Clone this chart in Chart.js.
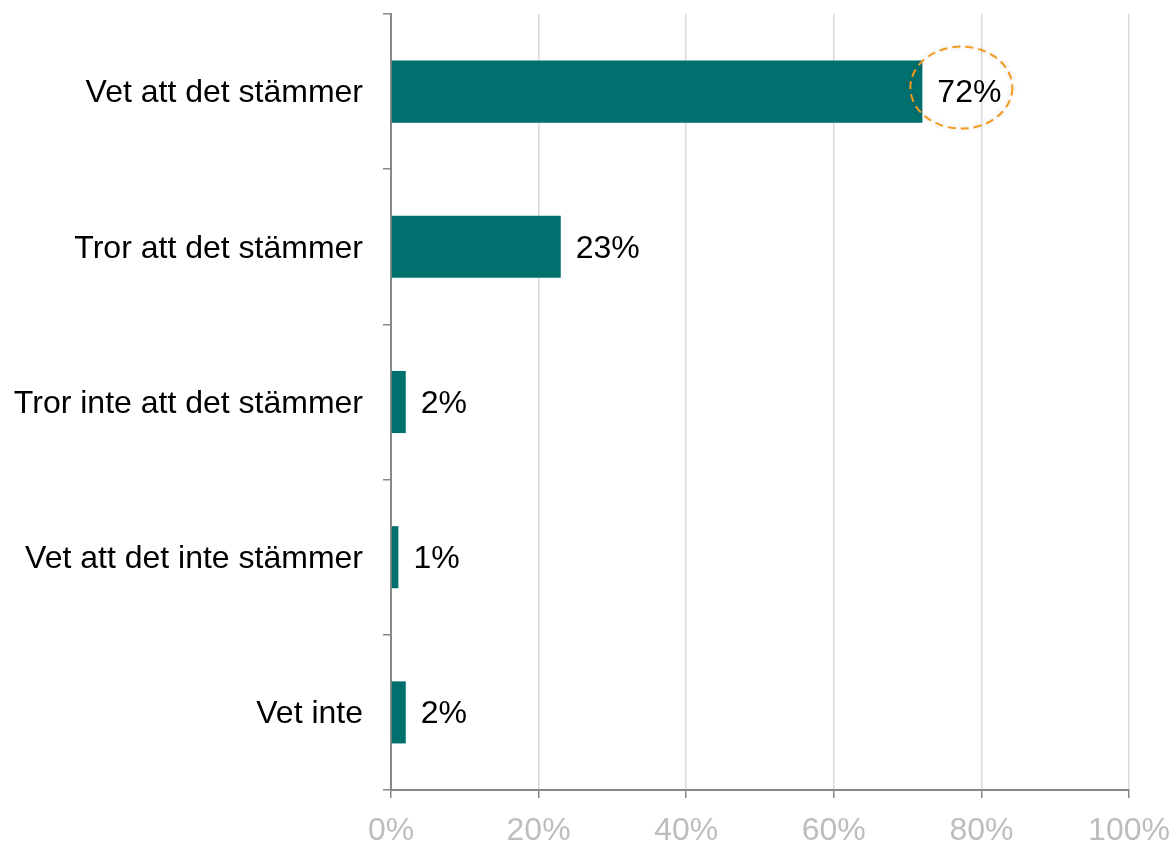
<!DOCTYPE html>
<html>
<head>
<meta charset="utf-8">
<script src="https://cdn.jsdelivr.net/npm/chart.js@4"></script>
<style>
  html, body { margin: 0; padding: 0; background: #fff; }
  #wrap { width: 1175px; height: 842px; }
</style>
</head>
<body>
<div id="wrap"><canvas id="chart" width="1175" height="842"></canvas></div>
<script>
// Answer categories and share of respondents (%)
const categories = [
    'Vet att det stämmer',
    'Tror att det stämmer',
    'Tror inte att det stämmer',
    'Vet att det inte stämmer',
    'Vet inte'
];
const shares = [72, 23, 2, 1, 2];
const xTicks = [0, 20, 40, 60, 80, 100];
const highlightIndex = 0;

const FONT = '"Liberation Sans", Arial, sans-serif';

// Value labels after each bar
const valueLabels = {
    id: 'valueLabels',
    afterDatasetsDraw(chart) {
        const ctx = chart.ctx;
        const meta = chart.getDatasetMeta(0);
        ctx.save();
        ctx.font = '32px ' + FONT;
        ctx.fillStyle = '#000';
        ctx.textAlign = 'left';
        ctx.textBaseline = 'middle';
        meta.data.forEach((bar, i) => {
            ctx.fillText(shares[i] + '%', bar.x + 15, bar.y + 2);
        });
        ctx.restore();
    }
};

// Dashed orange ring around the highlighted label
const highlightRing = {
    id: 'highlightRing',
    afterDatasetsDraw(chart) {
        const ctx = chart.ctx;
        const bar = chart.getDatasetMeta(0).data[highlightIndex];
        if (!bar) return;
        ctx.save();
        ctx.shadowColor = 'rgba(0,0,0,0.18)';
        ctx.shadowBlur = 5;
        ctx.strokeStyle = '#F39A1F';
        ctx.lineWidth = 2;
        ctx.setLineDash([8, 5]);
        ctx.beginPath();
        ctx.ellipse(bar.x + 39, bar.y - 4, 51, 41, 0, 0, Math.PI * 2);
        ctx.stroke();
        ctx.restore();
    }
};

new Chart(document.getElementById('chart'), {
    type: 'bar',
    data: {
        labels: categories,
        datasets: [{
            data: shares,
            backgroundColor: '#006F6E',
            borderWidth: 0,
            barPercentage: 0.4,
            categoryPercentage: 1.0
        }]
    },
    options: {
        indexAxis: 'y',
        responsive: false,
        animation: false,
        layout: { padding: { top: 14, right: 46, left: 0, bottom: 0 } },
        plugins: {
            legend: { display: false },
            tooltip: { enabled: false }
        },
        scales: {
            x: {
                min: 0,
                max: 100,
                afterBuildTicks(scale) {
                    scale.ticks = xTicks.map(v => ({ value: v }));
                },
                afterFit(scale) {
                    scale.height = 52;
                    scale.paddingLeft = 0;
                    scale.paddingRight = 0;
                },
                grid: {
                    color: '#D9D9D9',
                    lineWidth: 1.5,
                    tickColor: '#888',
                    tickLength: 8
                },
                border: { color: '#888', width: 2 },
                ticks: {
                    color: '#BDBDBD',
                    font: { family: FONT, size: 32 },
                    padding: 14,
                    maxRotation: 0,
                    callback: v => v + '%'
                }
            },
            y: {
                afterFit(scale) {
                    scale.width = 391;
                    scale.paddingTop = 0;
                    scale.paddingBottom = 0;
                },
                grid: {
                    offset: true,
                    drawOnChartArea: false,
                    color: '#888',
                    lineWidth: 1.5,
                    tickLength: 8
                },
                border: { color: '#888', width: 2 },
                ticks: {
                    color: '#000',
                    font: { family: FONT, size: 32 },
                    padding: 20,
                    labelOffset: 2
                }
            }
        }
    },
    plugins: [valueLabels, highlightRing]
});
</script>
</body>
</html>
